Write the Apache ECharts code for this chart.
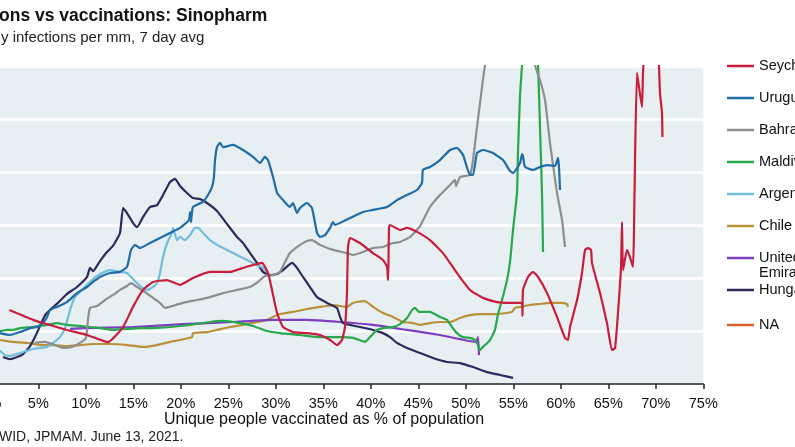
<!DOCTYPE html>
<html>
<head>
<meta charset="utf-8">
<script src="https://cdn.jsdelivr.net/npm/echarts@6/dist/echarts.min.js"></script>
<style>
html,body{margin:0;padding:0;background:#fff;}
#chart{width:795px;height:447px;}
</style>
</head>
<body>
<div id="chart"></div>
<script>
// ---- Data: [unique people vaccinated %, daily infections per mm (7 day avg)] ----
const seychelles = [[1.95,279],[4.44,242],[5.49,230],[8.02,204],[10.13,185],[12.34,158],[13.92,215],[14.97,291],[16.02,355],[17.07,385],[18.55,392],[19.92,374],[21.28,400],[23.07,423],[25.18,423],[26.55,438],[27.6,449],[28.55,457],[29.18,419],[29.6,355],[30.13,268],[30.76,215],[31.81,196],[33.28,192],[34.65,185],[35.71,166],[36.44,147],[36.97,166],[37.28,215],[37.49,343],[37.6,517],[37.81,551],[38.86,532],[40.23,494],[41.28,468],[41.71,442],[41.81,393],[41.86,457],[41.92,592],[42.02,600],[43.07,581],[43.81,589],[44.86,574],[46.23,543],[47.6,494],[49.07,419],[50.44,355],[51.81,325],[53.28,309],[54.34,306],[55.92,306],[55.97,257],[56.02,355],[56.55,404],[57.07,423],[57.6,404],[58.55,343],[59.6,253],[60.44,174],[60.76,166],[60.97,215],[61.71,317],[62.23,419],[62.55,506],[62.86,513],[63.18,506],[63.28,457],[64.13,343],[64.86,230],[65.39,128],[65.71,136],[66.02,268],[66.34,442],[66.44,611],[66.55,430],[66.97,506],[67.28,479],[67.6,442],[67.71,592],[67.81,845],[68.02,1174],[68.23,1121],[68.55,1045],[68.65,1174],[68.86,1298],[69.5,1700],[70.23,1298],[70.44,1098],[70.65,1023],[70.7,932]];

const uruguay = [[0.5,195],[0.97,192],[2.02,185],[3.07,196],[4.13,211],[4.86,215],[5.49,230],[5.92,253],[6.23,279],[6.97,291],[8.02,309],[9.07,343],[10.13,366],[10.76,385],[11.5,404],[12.55,419],[13.6,423],[14.34,442],[14.76,506],[15.18,525],[15.71,513],[16.76,532],[17.81,551],[18.86,570],[19.92,589],[20.86,619],[20.97,649],[21.07,611],[21.28,668],[22.34,687],[22.86,713],[23.28,743],[23.49,781],[23.6,845],[23.81,894],[24.13,910],[24.44,894],[25.49,902],[26.55,883],[27.6,857],[28.34,834],[28.86,857],[29.18,845],[29.71,781],[30.13,721],[30.76,694],[31.49,668],[31.81,683],[32.23,645],[32.55,664],[33.28,683],[33.81,664],[34.34,570],[34.65,555],[35.18,562],[35.71,589],[36.02,611],[36.23,600],[36.76,608],[37.81,626],[39.18,649],[40.23,657],[41.71,668],[42.76,694],[43.81,713],[44.86,732],[45.39,759],[45.49,808],[46.23,819],[47.28,845],[48.34,883],[49.07,891],[49.71,864],[50.44,789],[50.76,789],[51.18,872],[51.81,883],[52.86,872],[53.92,845],[54.65,804],[54.97,796],[55.71,834],[55.92,868],[56.02,860],[56.23,819],[57.07,808],[57.81,819],[58.55,826],[59.39,823],[59.71,853],[59.81,819],[59.92,732]];

const bahrain = [[4.65,155],[5.71,159],[6.76,147],[7.6,136],[8.55,140],[9.39,155],[10.02,174],[10.23,242],[10.44,287],[11.18,294],[12.02,317],[12.86,336],[13.6,355],[14.34,370],[14.76,381],[15.39,366],[16.23,347],[17.07,325],[17.81,306],[18.34,287],[19.07,294],[20.23,306],[21.71,317],[23.07,328],[24.44,343],[25.92,355],[27.29,366],[28.13,385],[28.86,408],[29.71,411],[30.44,423],[30.97,460],[31.49,494],[32.55,525],[33.28,540],[33.81,543],[34.65,525],[36.02,506],[37.49,494],[38.13,487],[39.18,498],[40.23,513],[41.28,517],[42.34,532],[43.07,536],[44.13,555],[45.18,596],[46.23,668],[47.28,713],[48.34,751],[48.86,770],[48.97,747],[49.39,781],[50.44,789],[50.76,845],[51.18,970],[51.71,1121],[52.02,1204],[54.65,1898],[57.28,1204],[57.81,1147],[58.34,1072],[58.86,910],[59.6,721],[60.13,619],[60.44,517]];

const maldives = [[0.5,200],[0.97,200],[1.71,204],[2.34,204],[3.07,211],[4.44,215],[5.92,223],[6.97,230],[8.02,223],[9.39,219],[10.44,215],[11.5,211],[12.86,204],[14.34,208],[15.71,211],[17.07,211],[18.86,215],[20.97,223],[23.07,234],[24.44,238],[26.23,230],[27.6,219],[29.07,200],[30.44,192],[32.55,185],[34.65,177],[36.76,177],[38.13,174],[39.39,159],[39.92,177],[40.65,204],[41.28,211],[42.34,215],[43.07,226],[43.81,249],[44.34,279],[44.65,287],[45.07,272],[46.23,272],[47.28,253],[48.02,242],[48.55,215],[49.07,192],[49.71,177],[50.44,174],[50.97,166],[51.28,147],[51.49,128],[51.81,140],[52.55,166],[53.07,204],[53.39,264],[53.81,317],[54.34,392],[54.65,460],[54.97,581],[55.39,721],[55.5,883],[55.71,1091],[55.92,1204],[56.76,1676],[57.6,1204],[57.81,970],[58.02,721],[58.13,498]];

const argentina = [[0.5,128],[0.97,125],[1.49,109],[2.02,106],[3.07,117],[4.44,132],[5.92,140],[6.55,155],[7.28,177],[7.81,211],[8.34,279],[8.86,328],[9.39,347],[10.13,374],[10.76,396],[11.5,415],[12.55,430],[13.6,423],[14.34,419],[14.97,396],[15.71,370],[16.44,355],[17.07,366],[17.5,381],[17.81,419],[18.13,479],[18.55,532],[19.07,570],[19.18,589],[19.6,543],[19.92,555],[20.44,543],[20.97,562],[21.49,589],[21.81,589],[22.34,570],[23.07,543],[23.81,525],[24.86,506],[25.92,487],[26.97,468],[28.02,449],[28.65,438],[29.18,419]];

const chile = [[0.5,168],[0.97,166],[2.34,159],[3.81,155],[5.18,147],[6.55,147],[8.02,143],[9.39,147],[10.76,151],[12.55,151],[14.34,147],[16.02,140],[17.5,147],[18.86,159],[19.92,166],[21.18,177],[21.28,192],[22.76,196],[23.81,204],[25.18,215],[26.55,223],[28.02,234],[29.07,242],[29.71,253],[30.44,264],[31.81,272],[33.28,283],[34.65,291],[36.02,298],[37.49,291],[38.13,306],[39.18,313],[39.6,309],[40.23,291],[41.28,268],[42.34,253],[43.39,234],[44.44,230],[45.18,223],[46.23,230],[47.28,234],[48.34,234],[49.39,249],[50.44,260],[51.49,264],[53.28,264],[54.86,272],[55.18,287],[55.71,291],[56.76,298],[57.81,302],[58.86,306],[59.92,306],[60.65,302],[60.76,291]];

const uae = [[8.34,208],[9.7,211],[14.97,215],[20.23,226],[25.49,234],[29.71,242],[33.28,242],[36.76,234],[40.23,223],[43.81,204],[47.28,185],[51.07,159],[51.28,177],[51.39,109]];

const hungary = [[1.28,102],[2.02,94],[2.76,102],[3.39,113],[4.13,143],[4.65,177],[5.18,219],[5.71,260],[6.23,279],[7.07,306],[8.02,340],[9.07,366],[10.13,404],[10.44,438],[10.76,426],[11.5,464],[12.23,498],[12.86,521],[13.6,570],[13.92,664],[14.34,645],[14.97,608],[15.39,592],[16.02,630],[16.76,668],[17.5,675],[18.13,713],[18.86,762],[19.39,774],[19.92,747],[20.65,721],[21.28,702],[22.02,698],[22.76,683],[23.81,653],[24.86,604],[25.92,555],[26.55,532],[27.29,494],[28.02,457],[28.65,423],[29.39,411],[30.13,415],[30.76,430],[31.71,457],[32.23,438],[32.86,404],[33.6,366],[34.34,328],[35.39,306],[36.44,287],[36.76,253],[37.07,230],[37.81,223],[38.86,215],[40.23,204],[41.28,192],[42.02,177],[42.76,155],[43.81,136],[45.18,117],[46.55,98],[48.02,83],[49.39,79],[50.76,64],[52.23,45],[53.6,34],[54.97,23]];

const naSeries = [];

const countryNames = ['Seychelles','Uruguay','Bahrain','Maldives','Argentina','Chile','United Arab','Hungary','NA'];
const countryData = [seychelles, uruguay, bahrain, maldives, argentina, chile, uae, hungary, naSeries];
const countryColors = ['#c81d3c','#1f6ca6','#8e8e8e','#26a84b','#72bcdc','#b8913b','#7b3fbf','#2c2b5c','#d4622b'];
const legendCenters = [65, 97, 129, 161, 193, 225, 257, 289, 324];
const legendSecondLine = 'Emirates';

const xTicks = {min: 0, max: 75, step: 5};
const yTicks = {min: 0, max: 1200, step: 200};

const FONT = 'Liberation Sans, Arial, Helvetica, sans-serif';

const drawOrder = [8, 5, 6, 7, 4, 3, 2, 1, 0];
const series = drawOrder.map((i, k) => ({
  name: countryNames[i],
  type: 'line',
  data: countryData[i],
  symbol: 'none',
  showSymbol: false,
  smooth: 0.15,
  clip: true,
  lineStyle: {color: countryColors[i], width: 2.2},
  itemStyle: {color: countryColors[i]},
  emphasis: {disabled: true},
  z: 3 + k
}));

const LEG_FS = 14.5;
const legends = countryNames.map((n, i) => ({
  data: [n],
  orient: 'vertical',
  left: 727,
  top: legendCenters[i] - 7,
  padding: 0,
  icon: 'rect',
  itemWidth: 27,
  itemHeight: 2.5,
  selectedMode: false,
  textStyle: {fontFamily: FONT, fontSize: LEG_FS, color: '#111', lineHeight: 16}
}));

const chart = echarts.init(document.getElementById('chart'), null, {renderer: 'canvas'});
chart.setOption({
  animation: false,
  backgroundColor: '#ffffff',
  title: [
    {text: 'ons vs vaccinations: Sinopharm', left: -1, top: 7, padding: 0,
     textStyle: {fontFamily: FONT, fontSize: 17.5, fontWeight: 'bold', color: '#111'}},
    {text: 'y infections per mm, 7 day avg', left: 1, top: 30, padding: 0,
     textStyle: {fontFamily: FONT, fontSize: 15, fontWeight: 'normal', color: '#222'}},
    {text: 'WID, JPMAM. June 13, 2021.', left: -1, top: 430, padding: 0,
     textStyle: {fontFamily: FONT, fontSize: 14, fontWeight: 'normal', color: '#222'}}
  ],
  legend: legends,
  graphic: [{
    type: 'text', left: 759, top: 265, silent: true,
    style: {text: legendSecondLine, fontFamily: FONT, fontSize: LEG_FS, fill: '#111'}
  }],
  grid: {left: -9.2, right: 91.7, top: 66, bottom: 63, show: true,
         backgroundColor: '#e7eff3', borderWidth: 0, containLabel: false,
         outerBoundsMode: 'none'},
  xAxis: {
    type: 'value', min: xTicks.min, max: xTicks.max, interval: xTicks.step,
    name: 'Unique people vaccinated as % of population',
    nameLocation: 'middle', nameGap: 28, nameMoveOverlap: false,
    nameTextStyle: {fontFamily: FONT, fontSize: 16, color: '#111', padding: [0, 46, 0, 0]},
    axisLine: {show: true, lineStyle: {color: '#222', width: 1.5}},
    axisTick: {show: true, inside: false, length: 5, lineStyle: {color: '#222', width: 1.5}},
    axisLabel: {show: true, margin: 12, formatter: '{value}%', fontFamily: FONT, fontSize: 14.5, color: '#111'},
    splitLine: {show: false}
  },
  yAxis: {
    type: 'value', min: yTicks.min, max: yTicks.max, interval: yTicks.step,
    axisLine: {show: false}, axisTick: {show: false}, axisLabel: {show: false},
    splitLine: {show: true, lineStyle: {color: '#ffffff', width: 2.5}}
  },
  series: series
});
</script>
</body>
</html>
